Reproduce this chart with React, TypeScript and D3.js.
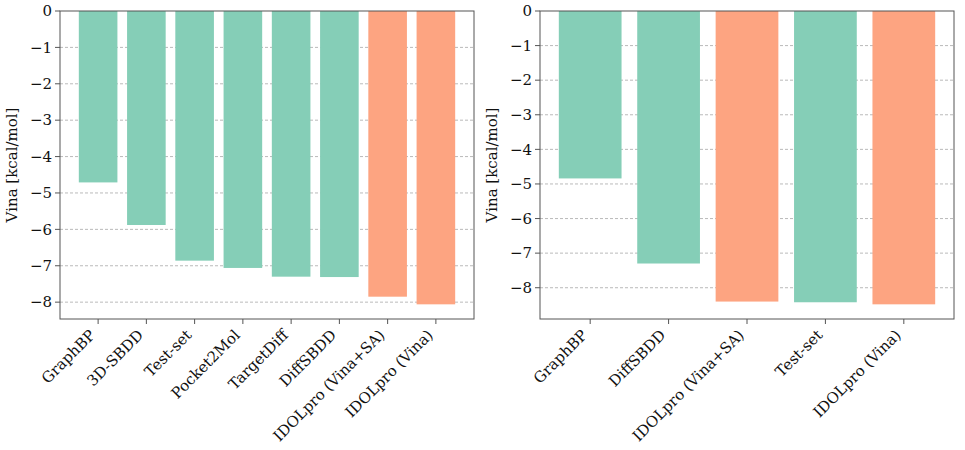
import React, { useEffect, useRef } from 'react';
import * as d3 from 'd3';

// CrossDocked benchmark (left)
const leftMethods = ['GraphBP', '3D-SBDD', 'Test-set', 'Pocket2Mol', 'TargetDiff', 'DiffSBDD', 'IDOLpro (Vina+SA)', 'IDOLpro (Vina)'];
const leftVina = [-4.71, -5.88, -6.86, -7.06, -7.30, -7.31, -7.85, -8.06];
const leftOurs = [false, false, false, false, false, false, true, true];

// Binding MOAD benchmark (right)
const rightMethods = ['GraphBP', 'DiffSBDD', 'IDOLpro (Vina+SA)', 'Test-set', 'IDOLpro (Vina)'];
const rightVina = [-4.84, -7.30, -8.40, -8.42, -8.48];
const rightOurs = [false, false, true, false, true];

const yTicks = [0, -1, -2, -3, -4, -5, -6, -7, -8];

const GREEN = '#85ceb7';
const ORANGE = '#fda481';
const FONT = 'DejaVu Serif';
const fmt = (v: number) => (v < 0 ? '\u2212' + Math.abs(v) : String(v));

function drawPanel(
  svg: d3.Selection<SVGSVGElement, unknown, null, undefined>,
  left: number,
  methods: string[],
  values: number[],
  ours: boolean[]
) {
  const top = 11;
  const width = 414;
  const height = 308;

  const g = svg.append('g').attr('transform', `translate(${left},${top})`);

  // matplotlib-like margins: 5% on x, sticky 0 on top
  const lo = -0.4;
  const hi = methods.length - 1 + 0.4;
  const m = (hi - lo) * 0.05;
  const x = d3.scaleLinear().domain([lo - m, hi + m]).range([0, width]);
  const y = d3.scaleLinear().domain([0, (d3.min(values) || 0) * 1.05]).range([0, height]);

  // grid
  g.selectAll('line.grid')
    .data(yTicks.filter((t) => t !== 0))
    .enter()
    .append('line')
    .attr('x1', 0)
    .attr('x2', width)
    .attr('y1', (d) => y(d))
    .attr('y2', (d) => y(d))
    .attr('stroke', '#a8a8a8')
    .attr('stroke-width', 0.8)
    .attr('stroke-dasharray', '3,2');

  // bars
  const bw = x(0.4) - x(-0.4);
  g.selectAll('rect.bar')
    .data(values)
    .enter()
    .append('rect')
    .attr('x', (_, i) => x(i) - bw / 2)
    .attr('y', y(0))
    .attr('width', bw)
    .attr('height', (d) => y(d) - y(0))
    .attr('fill', (_, i) => (ours[i] ? ORANGE : GREEN));

  // frame
  g.append('rect')
    .attr('x', 0)
    .attr('y', 0)
    .attr('width', width)
    .attr('height', height)
    .attr('fill', 'none')
    .attr('stroke', '#555')
    .attr('stroke-width', 1);

  // y ticks
  const yt = g.selectAll('g.yt').data(yTicks).enter().append('g').attr('transform', (d) => `translate(0,${y(d)})`);
  yt.append('line').attr('x1', -5).attr('x2', 0).attr('stroke', '#555').attr('stroke-width', 1);
  yt.append('text')
    .attr('x', -8)
    .attr('dy', '0.35em')
    .attr('text-anchor', 'end')
    .attr('font-family', FONT)
    .attr('font-size', 15)
    .attr('fill', '#111')
    .text((d) => fmt(d));

  // x ticks
  const xt = g.selectAll('g.xt').data(methods).enter().append('g').attr('transform', (_, i) => `translate(${x(i)},${height})`);
  xt.append('line').attr('y1', 0).attr('y2', 5).attr('stroke', '#555').attr('stroke-width', 1);
  xt.append('text')
    .attr('text-anchor', 'end')
    .attr('transform', 'translate(-2,17) rotate(-45)')
    .attr('font-family', FONT)
    .attr('font-size', 15)
    .attr('fill', '#111')
    .text((d) => d);

  // y label
  g.append('text')
    .attr('transform', `translate(-43,${height / 2}) rotate(-90)`)
    .attr('text-anchor', 'middle')
    .attr('font-family', FONT)
    .attr('font-size', 15)
    .attr('fill', '#111')
    .text('Vina [kcal/mol]');
}

const App: React.FC = () => {
  const ref = useRef<SVGSVGElement | null>(null);

  useEffect(() => {
    if (!ref.current) return;
    const svg = d3.select(ref.current);
    svg.selectAll('*').remove();
    drawPanel(svg, 60, leftMethods, leftVina, leftOurs);
    drawPanel(svg, 540, rightMethods, rightVina, rightOurs);
  }, []);

  return (
    <svg
      ref={ref}
      width={965}
      height={450}
      style={{ position: 'absolute', left: 0, top: 0, background: '#fff', display: 'block' }}
    />
  );
};

export default App;
